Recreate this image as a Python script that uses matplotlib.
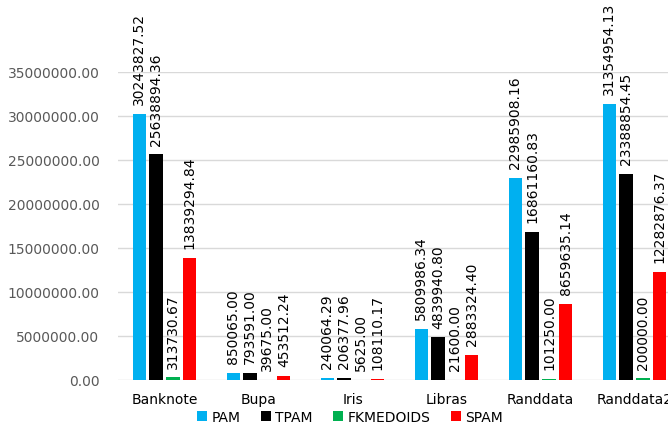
import matplotlib.pyplot as plt
import numpy as np

datasets = ["Banknote", "Bupa", "Iris", "Libras", "Randdata", "Randdata2"]
pam = [30243827.52, 850065.00, 240064.29, 5809986.34, 22985908.16, 31354954.13]
tpam = [25638894.36, 793591.00, 206377.96, 4839940.80, 16861160.83, 23388854.45]
fkmedoids = [313730.67, 39675.00, 5625.00, 21600.00, 101250.00, 200000.00]
spam = [13839294.84, 453512.24, 108110.17, 2883324.40, 8659635.14, 12282876.37]
y_ticks = [0, 5000000, 10000000, 15000000, 20000000, 25000000, 30000000, 35000000]

series = [("PAM", pam, "#00b0f0"), ("TPAM", tpam, "#000000"),
          ("FKMEDOIDS", fkmedoids, "#00b050"), ("SPAM", spam, "#ff0000")]

fig = plt.figure(figsize=(6.68, 4.27), dpi=100)
ax = fig.add_axes([117.5 / 668, 46 / 427, 564 / 668, 308 / 427])

x = np.arange(len(datasets))
width = 0.14
step = 0.18

for i, (name, vals, color) in enumerate(series):
    pos = x + (i - 1.5) * step
    ax.bar(pos, vals, width, color=color, label=name, zorder=3)
    for p, v in zip(pos, vals):
        ax.annotate(f"{v:.2f}", (p, v), xytext=(0, 7), textcoords="offset points",
                    rotation=90, ha="center", va="bottom", fontsize=10,
                    color="black", annotation_clip=False)

ax.set_xlim(-0.5, len(datasets) - 0.5)
ax.set_ylim(0, 35000000)
ax.set_yticks(y_ticks)
ax.set_yticklabels([f"{t:.2f}" for t in y_ticks], color="#595959", fontsize=10)
ax.set_xticks(x)
ax.set_xticklabels(datasets, fontsize=10)
ax.tick_params(axis="both", length=0)
ax.tick_params(axis="y", pad=13)
ax.tick_params(axis="x", pad=9)
ax.grid(axis="y", color="#d9d9d9", linewidth=1, zorder=0)
for s in ax.spines.values():
    s.set_visible(False)

fig.legend(loc="lower center", bbox_to_anchor=(350 / 668, -0.024), ncol=4,
           frameon=False, fontsize=10, handlelength=0.7, handleheight=0.7,
           handletextpad=0.3, columnspacing=1.5)

plt.savefig("out.png", dpi=100)
plt.close()
